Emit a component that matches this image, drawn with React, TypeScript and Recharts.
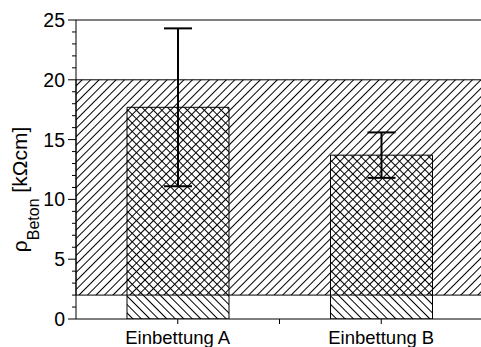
import React from 'react';
import {
  ComposedChart,
  Bar,
  ErrorBar,
  XAxis,
  YAxis,
  ReferenceArea,
  ReferenceLine,
} from 'recharts';

// Mean concrete resistivity per embedding, with standard deviation
const categories = ['Einbettung A', 'Einbettung B'];
const positions = [0.5, 1.5];
const resistivity = [17.7, 13.7];
const deviation = [6.6, 1.9];

// Axis ticks
const yAllTicks = Array.from({ length: 26 }, (_, i) => i);
const xTicks = [0.5, 1, 1.5];

// Typical resistivity range, shaded across the whole plot
const rangeLow = 2;
const rangeHigh = 20;

const data = categories.map((name, i) => ({
  name,
  pos: positions[i],
  value: resistivity[i],
  sd: deviation[i],
}));

const FONT = '"Liberation Sans", Arial, sans-serif';

const YTick = (props: any) => {
  const { x, y, payload } = props;
  const v = payload.value as number;
  const major = v % 5 === 0;
  return (
    <g>
      <line x1={x - (major ? 8 : 4)} x2={x} y1={y} y2={y} stroke="#000" strokeWidth={1} />
      {major && (
        <text
          x={x - 11}
          y={y}
          dy="0.36em"
          textAnchor="end"
          fontFamily={FONT}
          fontSize={19.5}
          fill="#000"
        >
          {v}
        </text>
      )}
    </g>
  );
};

const XTick = (props: any) => {
  const { x, y, payload } = props;
  const v = payload.value as number;
  const idx = positions.indexOf(v);
  return (
    <g>
      <line x1={x} x2={x} y1={y} y2={y + 5} stroke="#000" strokeWidth={1} />
      {idx >= 0 && (
        <text
          x={x}
          y={y + 25}
          textAnchor="middle"
          fontFamily={FONT}
          fontSize={18.5}
          fill="#000"
        >
          {categories[idx]}
        </text>
      )}
    </g>
  );
};

const YTitle = (props: any) => {
  const vb = props.viewBox || { x: 0, y: 20, width: 76, height: 299 };
  const cx = vb.x + 27;
  const cy = vb.y + vb.height / 2 + 20;
  return (
    <text
      x={cx}
      y={cy}
      textAnchor="middle"
      transform={`rotate(-90, ${cx}, ${cy})`}
      fontFamily={FONT}
      fontSize={21}
      fill="#000"
    >
      <tspan>ρ</tspan>
      <tspan fontSize={16} dy={12}>Beton</tspan>
      <tspan dy={-12}> [kΩcm]</tspan>
    </text>
  );
};

export default function App() {
  return (
    <div style={{ position: 'absolute', left: 0, top: 0, width: 481, height: 347, overflow: 'hidden', background: '#fff' }}>
      <svg width={0} height={0} style={{ position: 'absolute' }}>
        <defs>
          <pattern id="hatchFwd" patternUnits="userSpaceOnUse" width={6} height={6} patternTransform="rotate(45)">
            <line x1={0} y1={0} x2={0} y2={6} stroke="#000" strokeWidth={1.2} shapeRendering="crispEdges" />
          </pattern>
          <pattern id="hatchBack" patternUnits="userSpaceOnUse" width={6} height={6} patternTransform="rotate(-45)">
            <rect width={6} height={6} fill="#fff" />
            <line x1={0} y1={0} x2={0} y2={6} stroke="#000" strokeWidth={1.2} shapeRendering="crispEdges" />
          </pattern>
        </defs>
      </svg>
      <ComposedChart
        width={483}
        height={347}
        data={data}
        margin={{ top: 20, right: 0, bottom: 0, left: 0 }}
      >
        <XAxis
          dataKey="pos"
          type="number"
          domain={[0, 2]}
          ticks={xTicks}
          interval={0}
          tickLine={false}
          tickSize={0}
          tickMargin={0}
          tick={<XTick />}
          axisLine={{ stroke: '#000', strokeWidth: 1 }}
          height={28}
        />
        <YAxis
          type="number"
          domain={[0, 25]}
          ticks={yAllTicks}
          interval={0}
          allowDataOverflow
          width={76}
          tickLine={false}
          tickSize={0}
          tickMargin={0}
          tick={<YTick />}
          axisLine={{ stroke: '#000', strokeWidth: 1 }}
          label={{ content: <YTitle /> }}
        />
        <Bar
          dataKey="value"
          barSize={102}
          fill="url(#hatchBack)"
          stroke="#000"
          strokeWidth={1}
          isAnimationActive={false}
        >
          <ErrorBar dataKey="sd" width={14} stroke="#000" strokeWidth={2} direction="y" />
        </Bar>
        <ReferenceArea
          y1={rangeLow}
          y2={rangeHigh}
          fill="url(#hatchFwd)"
          fillOpacity={1}
          stroke="#000"
          strokeWidth={1}
          zIndex={350}
        />
        <ReferenceLine y={25} stroke="#000" strokeWidth={1} />
      </ComposedChart>
    </div>
  );
}
